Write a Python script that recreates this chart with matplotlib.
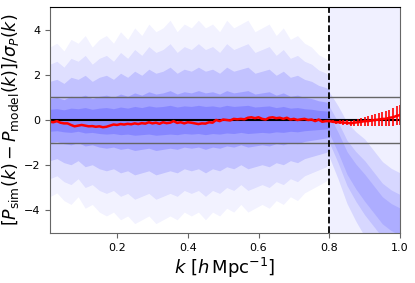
import numpy as np
import matplotlib.pyplot as plt

# k grid for the mean residual
k = np.linspace(0.01, 1.0, 100)

# mean residual over the simulations
mean_res = [
    -0.08, -0.10, -0.05, -0.12, -0.15, -0.15, -0.22, -0.28, -0.25, -0.22,
    -0.25, -0.28, -0.27, -0.30, -0.28, -0.32, -0.30, -0.25, -0.20, -0.22,
    -0.18, -0.20, -0.17, -0.19, -0.15, -0.18, -0.14, -0.16, -0.10, -0.15,
    -0.12, -0.17, -0.10, -0.14, -0.12, -0.05, -0.13, -0.10, -0.15, -0.10,
    -0.12, -0.15, -0.18, -0.15, -0.16, -0.10, -0.12, 0.00, -0.05, 0.02,
    0.00, -0.02, 0.05, 0.03, 0.05, 0.03, 0.10, 0.12, 0.08, 0.12,
    0.05, 0.02, 0.10, 0.12, 0.08, 0.10, 0.05, 0.10, 0.02, 0.05,
    0.00, 0.03, 0.05, 0.00, 0.02, -0.05, 0.02, -0.08, -0.05, -0.05,
    -0.08, -0.10, -0.10, -0.12, -0.12, -0.15, -0.12, -0.10, -0.08, -0.05,
    -0.05, -0.02, 0.00, 0.02, 0.05, 0.05, 0.10, 0.12, 0.18, 0.22,
]
# error on the mean for k >= 0.81
err_tail = [0.06, 0.07, 0.08, 0.10, 0.11, 0.12, 0.14, 0.16, 0.18, 0.20,
            0.22, 0.24, 0.26, 0.28, 0.30, 0.33, 0.36, 0.39, 0.42, 0.45]

# scatter of the individual simulations (upper / lower 1-sigma), k <= 0.8
kb = [0.01, 0.03, 0.05, 0.07, 0.09, 0.11, 0.13, 0.15, 0.17, 0.19,
      0.21, 0.23, 0.25, 0.27, 0.29, 0.31, 0.33, 0.35, 0.37, 0.39,
      0.41, 0.43, 0.45, 0.47, 0.49, 0.51, 0.53, 0.55, 0.57, 0.59,
      0.61, 0.63, 0.65, 0.67, 0.69, 0.71, 0.73, 0.75, 0.77, 0.79, 0.80]
sig_hi = [0.95, 1.00, 0.90, 1.05, 1.00, 1.10, 0.95, 1.05, 1.10, 1.00,
          1.15, 1.05, 1.20, 1.10, 1.25, 1.15, 1.20, 1.30, 1.15, 1.25,
          1.20, 1.30, 1.20, 1.25, 1.15, 1.30, 1.20, 1.25, 1.30, 1.15,
          1.20, 1.25, 1.10, 1.20, 1.05, 1.10, 1.00, 0.95, 0.85, 0.80, 0.75]
sig_lo = [1.00, 0.95, 1.05, 1.10, 1.00, 1.15, 1.10, 1.20, 1.25, 1.20,
          1.30, 1.25, 1.35, 1.30, 1.25, 1.35, 1.30, 1.25, 1.30, 1.20,
          1.25, 1.20, 1.30, 1.20, 1.25, 1.15, 1.20, 1.10, 1.20, 1.15,
          1.10, 1.15, 1.05, 1.10, 1.00, 1.05, 0.95, 0.90, 0.85, 0.80, 0.75]

# beyond k = 0.8 part of the simulations fan out downwards
kt = [0.8, 0.825, 0.85, 0.875, 0.9, 0.925, 0.95, 0.975, 1.0]
fan_c = [-0.2, -1.0, -1.9, -2.5, -3.0, -3.5, -4.0, -4.3, -4.5]
fan_sig = [0.8, 0.9, 1.0, 1.1, 1.2, 1.2, 1.2, 1.2, 1.2]

k_cut = 0.8
levels = [3.4, 2.6, 1.8, 1.0, 0.5]
level_alpha = [0.05, 0.08, 0.13, 0.16, 0.16]

fig = plt.figure(figsize=(4.15, 2.83), dpi=100)
ax = fig.add_axes([0.12, 0.177, 0.844, 0.798])

shi = np.array(sig_hi)
slo = np.array(sig_lo)
for f, a in zip(levels, level_alpha):
    ax.fill_between(kb, -f * slo, f * shi, color='b', alpha=a, lw=0)

# faint spread over the whole range past the cut
ax.axvspan(k_cut, 1.0, color='b', alpha=0.06, lw=0)
fc = np.array(fan_c)
fs = np.array(fan_sig)
for f in [1.8, 1.0, 0.5]:
    ax.fill_between(kt, fc - f * fs, fc + f * fs, color='b', alpha=0.1, lw=0)

ax.axhline(0, color='k', lw=1.5)
ax.axhline(1, color='0.4', lw=1)
ax.axhline(-1, color='0.4', lw=1)
ax.axvline(k_cut, color='k', ls='--', lw=1.3)

yerr = np.concatenate([np.full(80, 0.02), err_tail])
ax.errorbar(k, mean_res, yerr=yerr, color='r', lw=1.8, elinewidth=1.2)

ax.set_xlim(0.01, 1.0)
ax.set_ylim(-5, 5)
ax.set_xticks([0.2, 0.4, 0.6, 0.8, 1.0])
ax.set_yticks([-4, -2, 0, 2, 4])
ax.tick_params(labelsize=8, color='0.4')
for s in ['left', 'right', 'bottom']:
    ax.spines[s].set_color('0.4')
ax.set_xlabel(r'$k\ [h\,\mathrm{Mpc}^{-1}]$', fontsize=13, labelpad=2)
ax.set_ylabel(r'$[P_\mathrm{sim}(k) - P_\mathrm{model}(k)]/\sigma_P(k)$', fontsize=12.5, labelpad=2)

plt.savefig('out.png', dpi=100)
